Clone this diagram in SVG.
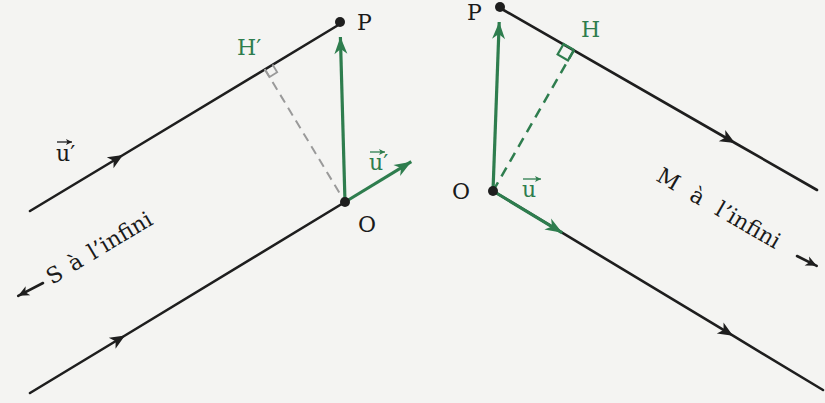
<svg xmlns="http://www.w3.org/2000/svg" width="825" height="403" viewBox="0 0 825 403">
<defs>
<style>
.ln{fill:none;stroke:#1e1e1e;stroke-width:2.6;stroke-linecap:round}
.gr{fill:none;stroke:#2e7d4e;stroke-width:3.2;stroke-linecap:butt}
.dot{fill:#1e1e1e}
.t{font-family:"DejaVu Serif","Liberation Serif",serif;font-size:22px;fill:#1a1a1a}
.tg{font-family:"DejaVu Serif","Liberation Serif",serif;font-size:22px;fill:#2e7d4e}
</style>
<marker id="mid" markerUnits="userSpaceOnUse" viewBox="-16 -8 18 16" markerWidth="18" markerHeight="16" refX="0" refY="0" orient="auto">
<path d="M0,0 L-15,-6.5 L-11,0 L-15,6.5 Z" fill="#1e1e1e"/>
</marker>
<marker id="gh" markerUnits="userSpaceOnUse" viewBox="-18 -8 20 16" markerWidth="20" markerHeight="16" refX="0" refY="0" orient="auto">
<path d="M0,0 L-17,-6.5 L-12,0 L-17,6.5 Z" fill="#2e7d4e"/>
</marker>
<marker id="bh" markerUnits="userSpaceOnUse" viewBox="-12 -6 14 12" markerWidth="14" markerHeight="12" refX="0" refY="0" orient="auto">
<path d="M0,0 L-11,-5 L-8,0 L-11,5 Z" fill="#1e1e1e"/>
</marker>
<marker id="vk" markerUnits="userSpaceOnUse" viewBox="-8 -4 10 8" markerWidth="10" markerHeight="8" refX="0" refY="0" orient="auto">
<path d="M0,0 L-6,-3 L-4.5,0 L-6,3 Z" fill="#1e1e1e"/>
</marker>
<marker id="vg" markerUnits="userSpaceOnUse" viewBox="-8 -4 10 8" markerWidth="10" markerHeight="8" refX="0" refY="0" orient="auto">
<path d="M0,0 L-6,-3 L-4.5,0 L-6,3 Z" fill="#2e7d4e"/>
</marker>
</defs>
<rect x="0" y="0" width="825" height="403" fill="#f4f4f2"/>

<g id="connectors">
<path class="ln" d="M30,211 L123,155 L340,24" marker-mid="url(#mid)"/>
<path class="ln" d="M30,393 L125,335.5 L345,202" marker-mid="url(#mid)"/>
<line x1="264.8" y1="69.2" x2="345" y2="202" stroke="#9a9a9a" stroke-width="2" stroke-dasharray="9,6"/>
<polyline points="272.5,64.5 277.2,72.2 269.5,76.9 264.8,69.2" fill="none" stroke="#9a9a9a" stroke-width="1.8"/>
<line class="gr" x1="345" y1="202" x2="340.4" y2="37" marker-end="url(#gh)"/>
<line class="gr" x1="345" y1="202" x2="411.3" y2="161.7" marker-end="url(#gh)"/>
<path class="ln" d="M500,8 L735,143 L817,190" marker-mid="url(#mid)"/>
<path class="ln" d="M493,191 L733,335.7 L823,390" marker-mid="url(#mid)"/>
<line x1="493" y1="191" x2="574" y2="50" stroke="#2e7d4e" stroke-width="2.5" stroke-dasharray="10,7"/>
<polyline points="574,50 563.6,44 557.6,54.4 568,60.4 574,50" fill="none" stroke="#2e7d4e" stroke-width="2.2"/>
<line class="gr" x1="493" y1="191" x2="499.2" y2="22" marker-end="url(#gh)"/>
<line class="gr" x1="493" y1="191" x2="562.3" y2="232.8" marker-end="url(#gh)"/>
<line class="ln" x1="43" y1="283" x2="18.2" y2="295.8" marker-end="url(#bh)"/>
<line class="ln" x1="797" y1="256" x2="816.7" y2="265.8" marker-end="url(#bh)"/>
</g>

<g id="node-P-left">
<circle class="dot" cx="340" cy="22" r="5"/>
<text class="t" x="357" y="30">P</text>
</g>
<g id="node-O-left">
<circle class="dot" cx="345" cy="202" r="5"/>
<text class="t" x="358" y="232">O</text>
</g>
<g id="label-Hprime">
<text class="tg" x="237" y="55">H′</text>
</g>
<g id="label-uprime-left">
<text class="t" x="56" y="161">u′</text>
<line x1="57" y1="142" x2="72" y2="142" stroke="#1e1e1e" stroke-width="1.3" marker-end="url(#vk)"/>
</g>
<g id="label-uprime-right">
<text class="tg" x="369" y="170">u′</text>
<line x1="370" y1="152" x2="385" y2="152" stroke="#2e7d4e" stroke-width="1.3" marker-end="url(#vg)"/>
</g>
<g id="label-S">
<text class="t" transform="translate(52,285) rotate(-31)" word-spacing="3">S à l’infini</text>
</g>

<g id="node-P-right">
<circle class="dot" cx="500" cy="7" r="5"/>
<text class="t" x="467" y="20">P</text>
</g>
<g id="node-O-right">
<circle class="dot" cx="493" cy="191" r="5"/>
<text class="t" x="452" y="199">O</text>
</g>
<g id="label-H">
<text class="tg" x="581" y="37">H</text>
</g>
<g id="label-u-right">
<text class="tg" x="522" y="197">u</text>
<line x1="523" y1="179" x2="541" y2="179" stroke="#2e7d4e" stroke-width="1.3" marker-end="url(#vg)"/>
</g>
<g id="label-M">
<text class="t" transform="translate(655,180) rotate(30)" word-spacing="9">M à l’infini</text>
</g>
</svg>
